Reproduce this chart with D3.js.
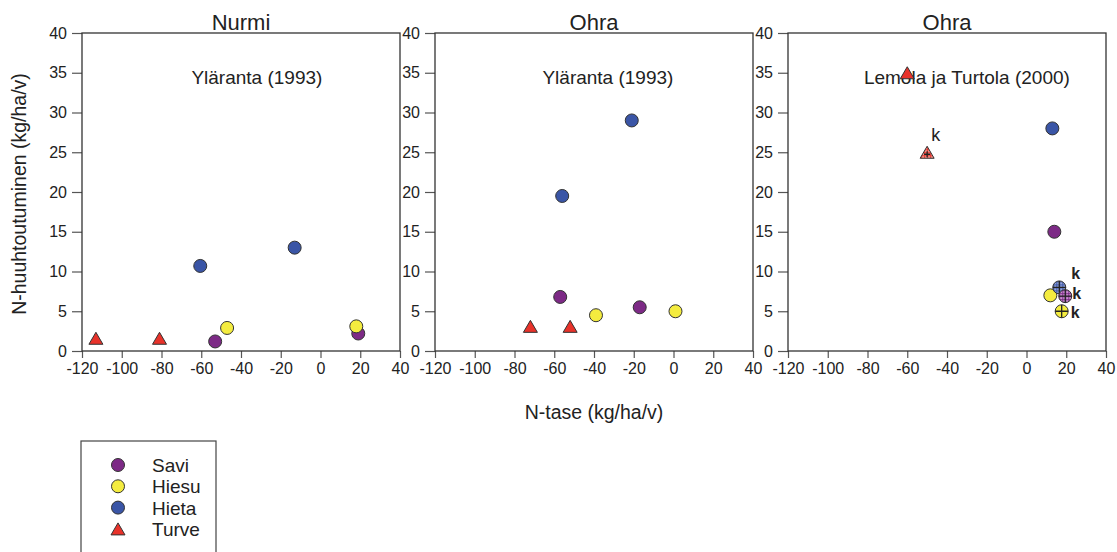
<!DOCTYPE html>
<html>
<head>
<meta charset="utf-8">
<script src="https://cdn.jsdelivr.net/npm/d3@7"></script>
<style>
  html, body { margin: 0; padding: 0; background: #fff; }
  svg { display: block; font-family: "Liberation Sans", Arial, Helvetica, sans-serif; }
</style>
</head>
<body>
<svg id="chart" width="1117" height="552"></svg>
<script>
// Crop titles and study sources for the three panels
const cropTitles = ["Nurmi", "Ohra", "Ohra"];
const sources = ["Yläranta (1993)", "Yläranta (1993)", "Lemola ja Turtola (2000)"];
const sourceX = [-32, -33, -30];

// Soil types in legend order
const soils = ["Savi", "Hiesu", "Hieta", "Turve"];

// Axis ticks
const xTicks = [-120, -100, -80, -60, -40, -20, 0, 20, 40];
const yTicks = [0, 5, 10, 15, 20, 25, 30, 35, 40];

// N balance (x) vs. N leaching (y), kg/ha/v
const nurmiYlaranta = [
  { soil: "Turve", x: -113, y: 1.6 },
  { soil: "Turve", x: -81, y: 1.6 },
  { soil: "Savi", x: -53, y: 1.2 },
  { soil: "Hiesu", x: -47, y: 2.9 },
  { soil: "Hieta", x: -60.5, y: 10.7 },
  { soil: "Hieta", x: -13, y: 13 },
  { soil: "Savi", x: 19, y: 2.2 },
  { soil: "Hiesu", x: 18, y: 3.1 }
];

const ohraYlaranta = [
  { soil: "Turve", x: -72, y: 3.1 },
  { soil: "Turve", x: -52, y: 3.1 },
  { soil: "Savi", x: -57, y: 6.8 },
  { soil: "Hiesu", x: -39, y: 4.5 },
  { soil: "Savi", x: -17, y: 5.5 },
  { soil: "Hiesu", x: 1, y: 5 },
  { soil: "Hieta", x: -56, y: 19.5 },
  { soil: "Hieta", x: -21, y: 29 }
];

// "k" marks the crossed symbols
const ohraLemola = [
  { soil: "Turve", x: -60, y: 35, crossed: false },
  { soil: "Turve", x: -50, y: 25, crossed: true, label: "k", place: "above" },
  { soil: "Hieta", x: 13, y: 28, crossed: false },
  { soil: "Savi", x: 14, y: 15, crossed: false },
  { soil: "Hiesu", x: 12, y: 7, crossed: false },
  { soil: "Hieta", x: 16.5, y: 8, crossed: true, label: "k", place: "upright" },
  { soil: "Savi", x: 19.5, y: 6.9, crossed: true, label: "k", place: "right" },
  { soil: "Hiesu", x: 17.7, y: 5, crossed: true, label: "k", place: "lowright" }
];

const panelData = [nurmiYlaranta, ohraYlaranta, ohraLemola];

// ---- drawing ----
const colors = { Savi: "#7d2a86", Hiesu: "#f4ec3f", Hieta: "#3a55a6", Turve: "#e8322a" };
const lightColors = { Savi: "#c98fcf", Hiesu: "#f4ec3f", Hieta: "#93a3d6", Turve: "#f29a93" };

const svg = d3.select("#chart");
const defs = svg.append("defs");

// grid hatch fills for crossed symbols
Object.keys(colors).forEach(s => {
  const p = defs.append("pattern")
    .attr("id", "hatch-" + s)
    .attr("patternUnits", "userSpaceOnUse")
    .attr("width", 3).attr("height", 3);
  p.append("rect").attr("width", 3).attr("height", 3).attr("fill", lightColors[s]);
  p.append("path").attr("d", "M0 0.5H3M0.5 0V3")
    .attr("stroke", colors[s]).attr("stroke-width", 0.9).attr("fill", "none");
});

const plotW = 318, plotH = 318, plotTop = 33;
const lefts = [82, 435, 788];
const axisColor = "#333";
const tickColor = "#555";

const triSide = 14, triH = 12;
const triPath = `M0,${-triH / 2}L${triSide / 2},${triH / 2}L${-triSide / 2},${triH / 2}Z`;

const labelOffsets = {
  above: { dx: 4, dy: -11, weight: "normal", size: 18 },
  upright: { dx: 12, dy: -8, weight: "bold", size: 16 },
  right: { dx: 7, dy: 3, weight: "bold", size: 16 },
  lowright: { dx: 9, dy: 7, weight: "bold", size: 16 }
};

// plain hyphen-minus on tick labels
const plainNum = d => String(d);

panelData.forEach((data, i) => {
  const x = d3.scaleLinear().domain([-120, 40]).range([0, plotW]);
  const y = d3.scaleLinear().domain([0, 40]).range([plotH, 0]);
  const g = svg.append("g").attr("transform", `translate(${lefts[i]},${plotTop})`);

  // x axis
  const xa = g.append("g").attr("transform", `translate(0,${plotH})`)
    .call(d3.axisBottom(x).tickValues(xTicks).tickFormat(plainNum)
      .tickSize(7).tickSizeOuter(0).tickPadding(5));
  // y axis
  const ya = g.append("g")
    .call(d3.axisLeft(y).tickValues(yTicks).tickFormat(plainNum)
      .tickSize(10).tickSizeOuter(0).tickPadding(5));
  [xa, ya].forEach(a => {
    a.select(".domain").remove();
    a.selectAll(".tick line").attr("stroke", tickColor).attr("stroke-width", 1.2);
    a.selectAll(".tick text").attr("fill", "#222").style("font-size", "16px")
      .style("font-family", "'Liberation Sans', Arial, sans-serif");
  });

  // frame
  g.append("rect").attr("width", plotW).attr("height", plotH)
    .attr("fill", "none").attr("stroke", axisColor).attr("stroke-width", 1.3);

  // titles
  g.append("text").attr("x", plotW / 2).attr("y", -3)
    .attr("text-anchor", "middle").attr("fill", "#222")
    .style("font-size", "22px").text(cropTitles[i]);
  g.append("text").attr("x", x(sourceX[i])).attr("y", y(35) + 11)
    .attr("text-anchor", "middle").attr("fill", "#222")
    .style("font-size", "19px").text(sources[i]);

  // points
  data.forEach(d => {
    const cx = x(d.x), cy = y(d.y);
    const fill = d.crossed && d.soil !== "Hiesu" ? `url(#hatch-${d.soil})` : colors[d.soil];
    const pg = g.append("g").attr("transform", `translate(${cx},${cy})`);
    if (d.soil === "Turve") {
      pg.append("path").attr("d", triPath).attr("fill", fill)
        .attr("stroke", "#333").attr("stroke-width", 1);
      if (d.crossed) {
        pg.append("path").attr("d", "M-3,2H3M0,-1V5")
          .attr("stroke", "#222").attr("stroke-width", 1.3);
      }
    } else {
      pg.append("circle").attr("r", 6.5).attr("fill", fill)
        .attr("stroke", "#333").attr("stroke-width", 1);
      if (d.crossed) {
        pg.append("path").attr("d", "M-6.5,0H6.5M0,-6.5V6.5")
          .attr("stroke", "#222").attr("stroke-width", 1.3);
      }
    }
    if (d.label) {
      const o = labelOffsets[d.place];
      g.append("text").attr("x", cx + o.dx).attr("y", cy + o.dy)
        .attr("fill", "#222").style("font-size", o.size + "px")
        .style("font-weight", o.weight).text(d.label);
    }
  });
});

// axis titles
svg.append("text")
  .attr("x", lefts[1] + plotW / 2).attr("y", 419)
  .attr("text-anchor", "middle").attr("fill", "#222")
  .style("font-size", "19.5px").text("N-tase (kg/ha/v)");
svg.append("text")
  .attr("transform", `translate(26,${plotTop + plotH / 2 + 2}) rotate(-90)`)
  .attr("text-anchor", "middle").attr("fill", "#222")
  .style("font-size", "19.5px").text("N-huuhtoutuminen (kg/ha/v)");

// legend
const lg = svg.append("g");
lg.append("rect").attr("x", 81).attr("y", 441).attr("width", 135).attr("height", 140)
  .attr("fill", "none").attr("stroke", "#444").attr("stroke-width", 1.2);
soils.forEach((s, k) => {
  const cy = 465 + k * 21.3;
  if (s === "Turve") {
    lg.append("path").attr("d", triPath).attr("transform", `translate(118,${cy})`)
      .attr("fill", colors[s]).attr("stroke", "#333").attr("stroke-width", 1);
  } else {
    lg.append("circle").attr("cx", 118).attr("cy", cy).attr("r", 6.5)
      .attr("fill", colors[s]).attr("stroke", "#333").attr("stroke-width", 1);
  }
  lg.append("text").attr("x", 152).attr("y", cy + 7)
    .attr("fill", "#222").style("font-size", "19px").text(s);
});
</script>
</body>
</html>
